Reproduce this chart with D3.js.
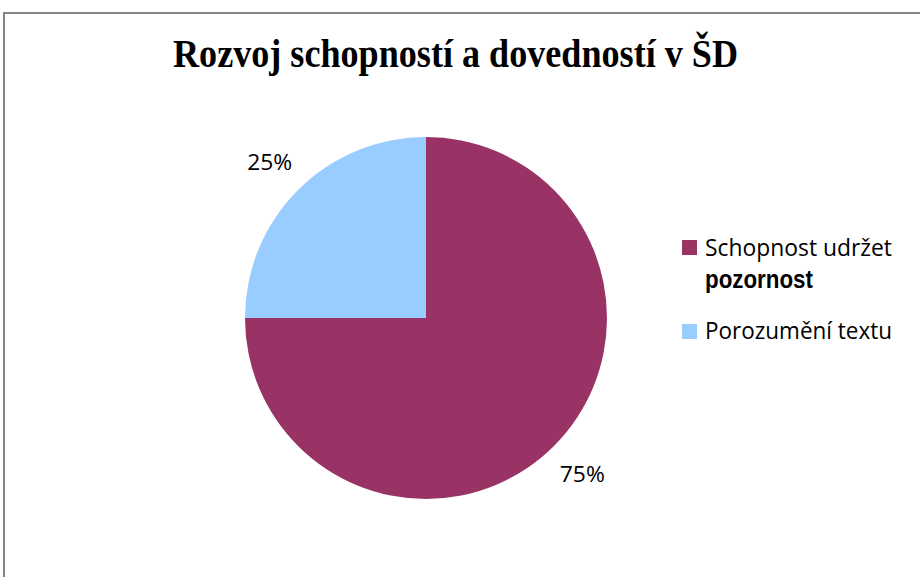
<!DOCTYPE html>
<html>
<head>
<meta charset="utf-8">
<script src="https://cdn.jsdelivr.net/npm/d3@7"></script>
<style>
  body { margin: 0; background: #fff; }
</style>
</head>
<body>
<svg id="chart"></svg>
<script>
// data
const categories = ["Schopnost udržet pozornost", "Porozumění textu"];
const values = [75, 25];
const labels = ["75%", "25%"];
const colors = ["#993366", "#99ccff"];

let win = {w: 920, h: 577};
const svg = d3.select("#chart")
  .attr("width", win.w)
  .attr("height", win.h);

// frame
svg.append("rect")
  .attr("x", 4).attr("y", 13)
  .attr("width", 940).attr("height", 600)
  .attr("fill", "none")
  .attr("stroke", "#868686")
  .attr("stroke-width", 2);

// title
svg.append("text")
  .attr("x", 173).attr("y", 67)
  .attr("font-family", "Liberation Serif, Times New Roman, serif")
  .attr("font-weight", "bold")
  .attr("font-size", 39)
  .attr("textLength", 565)
  .attr("lengthAdjust", "spacingAndGlyphs")
  .text("Rozvoj schopností a dovedností v ŠD");

// pie
let center = {x: 426, y: 318};
let radius = 181;
const pie = d3.pie().sort(null).value(d => d);
const arc = d3.arc().innerRadius(0).outerRadius(radius);
const labelArc = d3.arc().innerRadius(221).outerRadius(221);

const g = svg.append("g")
  .attr("transform", `translate(${center.x},${center.y})`);

const slices = pie(values);
g.selectAll("path")
  .data(slices)
  .enter()
  .append("path")
  .attr("d", arc)
  .attr("fill", (d, i) => colors[i]);

g.selectAll("text.lbl")
  .data(slices)
  .enter()
  .append("text")
  .attr("class", "lbl")
  .attr("x", d => labelArc.centroid(d)[0])
  .attr("y", d => labelArc.centroid(d)[1] + 8)
  .attr("text-anchor", "middle")
  .attr("font-family", "Open Sans, sans-serif")
  .attr("font-size", 22)
  .attr("fill", "#000")
  .attr("textLength", 45)
  .attr("lengthAdjust", "spacingAndGlyphs")
  .text((d, i) => labels[i]);

// legend
let legend = {x: 682, y: 240, box: 15};
const leg = svg.append("g");

leg.append("rect")
  .attr("x", legend.x).attr("y", legend.y)
  .attr("width", legend.box).attr("height", legend.box)
  .attr("fill", colors[0]);
leg.append("text")
  .attr("x", legend.x + 23).attr("y", 256)
  .attr("font-family", "Open Sans, sans-serif")
  .attr("font-size", 23.5)
  .attr("textLength", 187)
  .attr("lengthAdjust", "spacingAndGlyphs")
  .text("Schopnost udržet");
leg.append("text")
  .attr("x", legend.x + 23).attr("y", 288)
  .attr("font-family", "Liberation Sans, Arial, sans-serif")
  .attr("font-weight", "bold")
  .attr("font-size", 25)
  .attr("textLength", 108)
  .attr("lengthAdjust", "spacingAndGlyphs")
  .text("pozornost");

leg.append("rect")
  .attr("x", legend.x).attr("y", 324)
  .attr("width", legend.box).attr("height", legend.box)
  .attr("fill", colors[1]);
leg.append("text")
  .attr("x", legend.x + 23).attr("y", 339)
  .attr("font-family", "Open Sans, sans-serif")
  .attr("font-size", 23.5)
  .attr("textLength", 187)
  .attr("lengthAdjust", "spacingAndGlyphs")
  .text("Porozumění textu");
</script>
</body>
</html>
